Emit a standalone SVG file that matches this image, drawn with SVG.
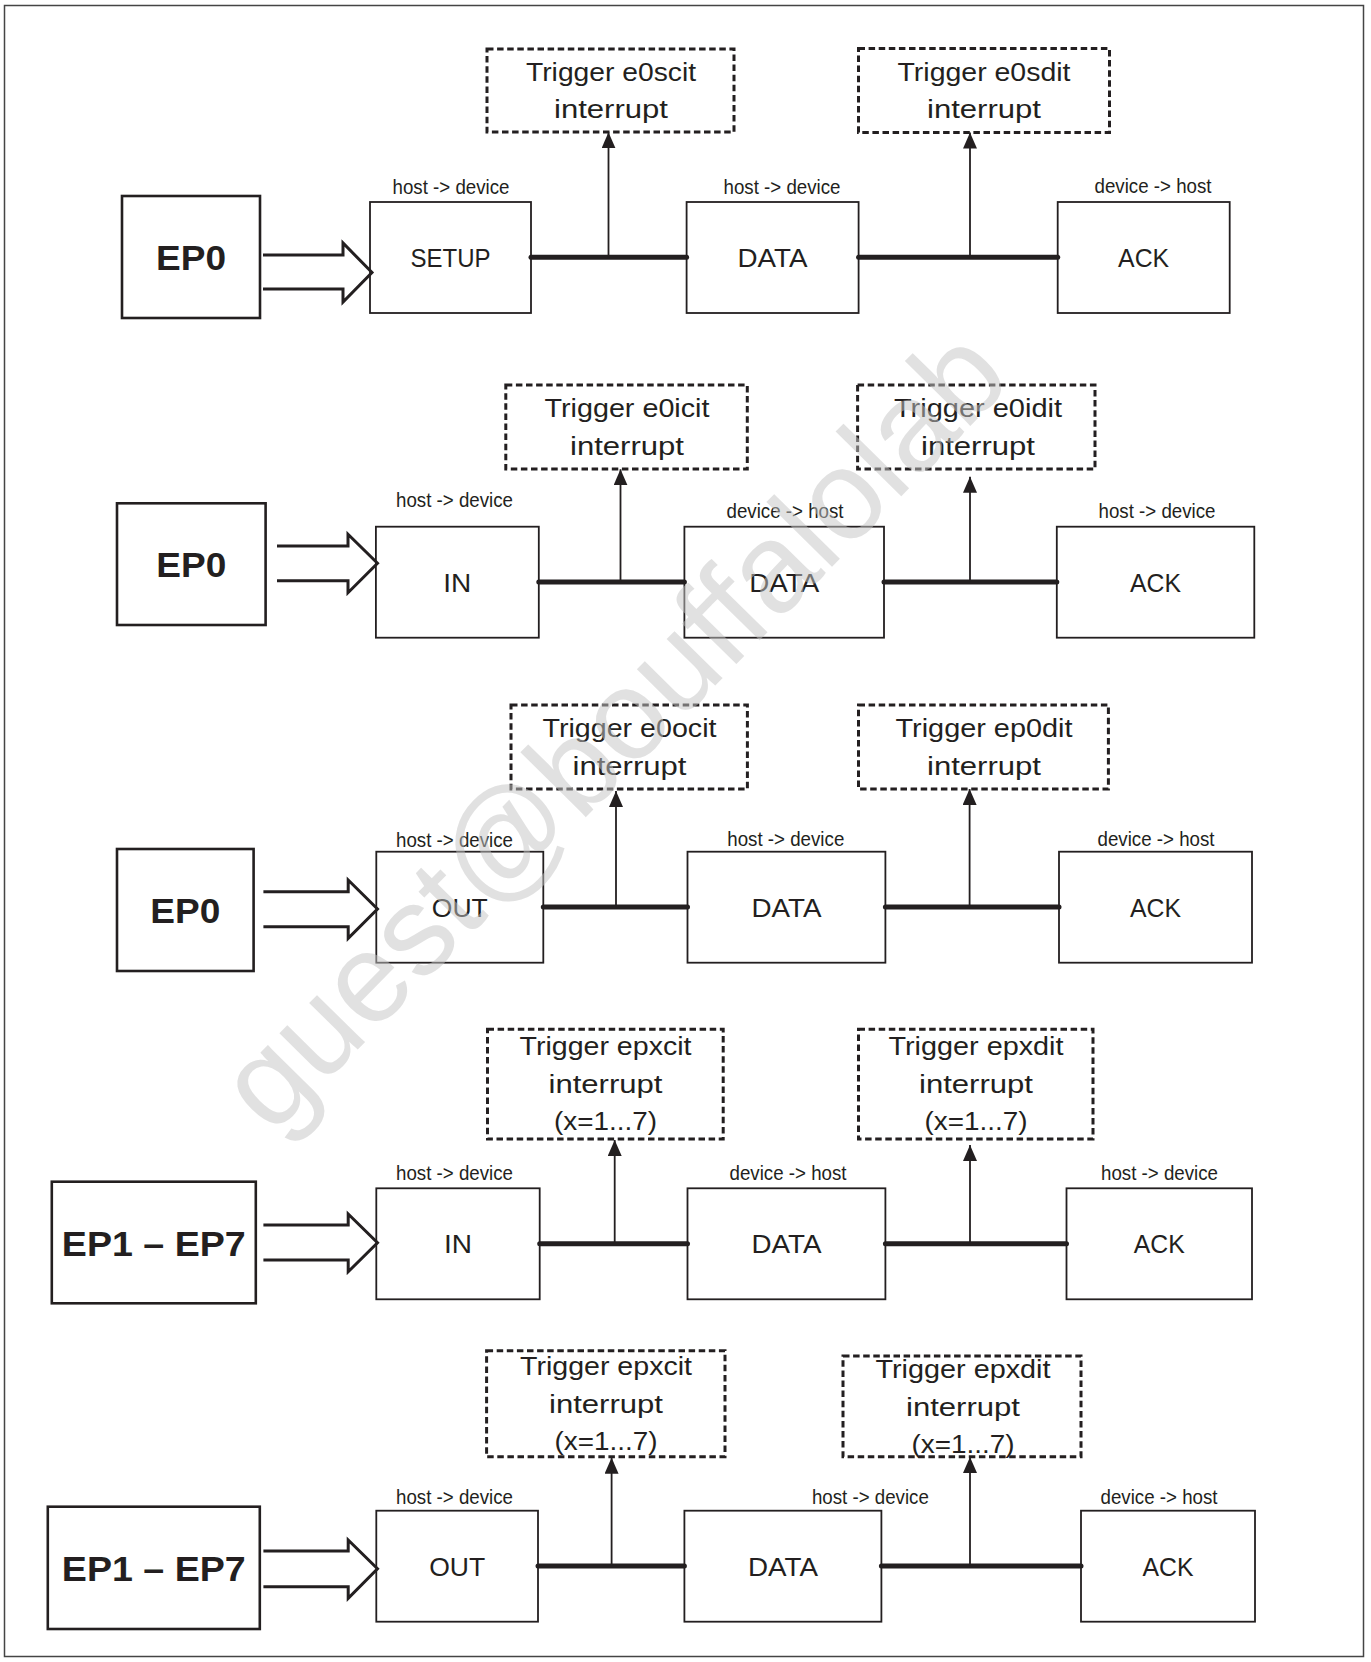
<svg xmlns="http://www.w3.org/2000/svg" width="1371" height="1662" viewBox="0 0 1371 1662">
<style>
.frame{fill:none;stroke:#444;stroke-width:1.5}
.ep{fill:#fff;stroke:#231f20;stroke-width:2.6}
.box{fill:#fff;stroke:#231f20;stroke-width:1.8}
.dash{fill:none;stroke:#231f20;stroke-width:3;stroke-dasharray:6.5 3.6}
.blk{fill:none;stroke:#231f20;stroke-width:3;stroke-linejoin:miter}
.bus{stroke:#231f20;stroke-width:5;stroke-linecap:round}
.up{stroke:#231f20;stroke-width:1.8;marker-end:url(#ah)}
text{font-family:"Liberation Sans",Arial,sans-serif;fill:#231f20;text-anchor:middle}
.eplbl{font-size:35px;font-weight:bold}
.lbl{font-size:25px}
.dir{font-size:19.5px}
.wm{font-size:127px;fill:#c4c4c4;opacity:0.5}
</style>
<defs>
<marker id="ah" viewBox="0 0 16 14" refX="16" refY="7" markerWidth="16" markerHeight="14" markerUnits="userSpaceOnUse" orient="auto">
<path d="M0,0 L16,7 L0,14 z" fill="#231f20"/>
</marker>
</defs>
<rect class="frame" x="4.5" y="5.5" width="1359" height="1651"/>

<!-- Row 1 -->
<g id="r1-ep"><rect class="ep" x="122" y="196" width="138" height="122"/><text class="eplbl" x="191" y="270" textLength="70" lengthAdjust="spacingAndGlyphs">EP0</text></g>
<g id="r1-setup"><rect class="box" x="370" y="202" width="161" height="111"/><text class="dir" x="451" y="194" textLength="117" lengthAdjust="spacingAndGlyphs">host -&gt; device</text><text class="lbl" x="450.5" y="267" textLength="80" lengthAdjust="spacingAndGlyphs">SETUP</text></g>
<g id="r1-data"><rect class="box" x="686.6" y="202" width="172" height="111"/><text class="dir" x="782" y="194" textLength="117" lengthAdjust="spacingAndGlyphs">host -&gt; device</text><text class="lbl" x="772.5" y="267" textLength="70" lengthAdjust="spacingAndGlyphs">DATA</text></g>
<g id="r1-ack"><rect class="box" x="1057.7" y="202" width="172" height="111"/><text class="dir" x="1153" y="193" textLength="117" lengthAdjust="spacingAndGlyphs">device -&gt; host</text><text class="lbl" x="1143.6" y="267" textLength="51" lengthAdjust="spacingAndGlyphs">ACK</text></g>
<g id="r1-int1"><rect class="dash" x="487" y="49" width="247" height="83"/><text class="lbl" x="611" y="81" textLength="170" lengthAdjust="spacingAndGlyphs">Trigger e0scit</text><text class="lbl" x="611" y="118" textLength="114" lengthAdjust="spacingAndGlyphs">interrupt</text></g>
<g id="r1-int2"><rect class="dash" x="858.5" y="48.5" width="251" height="84"/><text class="lbl" x="984" y="81" textLength="173" lengthAdjust="spacingAndGlyphs">Trigger e0sdit</text><text class="lbl" x="984" y="118" textLength="114" lengthAdjust="spacingAndGlyphs">interrupt</text></g>

<!-- Row 2 -->
<g id="r2-ep"><rect class="ep" x="117" y="503.3" width="148.6" height="121.7"/><text class="eplbl" x="191.3" y="577" textLength="70" lengthAdjust="spacingAndGlyphs">EP0</text></g>
<g id="r2-in"><rect class="box" x="375.9" y="526.7" width="162.9" height="111"/><text class="dir" x="454.5" y="506.7" textLength="117" lengthAdjust="spacingAndGlyphs">host -&gt; device</text><text class="lbl" x="457.3" y="591.5" textLength="28" lengthAdjust="spacingAndGlyphs">IN</text></g>
<g id="r2-data"><rect class="box" x="684.4" y="526.7" width="199.6" height="111"/><text class="dir" x="785" y="518.3" textLength="117" lengthAdjust="spacingAndGlyphs">device -&gt; host</text><text class="lbl" x="784.2" y="591.5" textLength="70" lengthAdjust="spacingAndGlyphs">DATA</text></g>
<g id="r2-ack"><rect class="box" x="1056.8" y="526.7" width="197.5" height="111"/><text class="dir" x="1157" y="518.3" textLength="117" lengthAdjust="spacingAndGlyphs">host -&gt; device</text><text class="lbl" x="1155.5" y="591.5" textLength="51" lengthAdjust="spacingAndGlyphs">ACK</text></g>
<g id="r2-int1"><rect class="dash" x="505.8" y="385" width="241.5" height="84"/><text class="lbl" x="627" y="416.7" textLength="165" lengthAdjust="spacingAndGlyphs">Trigger e0icit</text><text class="lbl" x="627" y="455" textLength="114" lengthAdjust="spacingAndGlyphs">interrupt</text></g>
<g id="r2-int2"><rect class="dash" x="857.6" y="385" width="237.4" height="84"/><text class="lbl" x="978" y="416.7" textLength="168" lengthAdjust="spacingAndGlyphs">Trigger e0idit</text><text class="lbl" x="978" y="455" textLength="114" lengthAdjust="spacingAndGlyphs">interrupt</text></g>

<!-- Row 3 -->
<g id="r3-ep"><rect class="ep" x="117" y="849" width="136.6" height="122"/><text class="eplbl" x="185.3" y="923" textLength="70" lengthAdjust="spacingAndGlyphs">EP0</text></g>
<g id="r3-out"><rect class="box" x="376.3" y="851.7" width="167" height="111"/><text class="dir" x="454.5" y="846.7" textLength="117" lengthAdjust="spacingAndGlyphs">host -&gt; device</text><text class="lbl" x="459.8" y="916.5" textLength="56" lengthAdjust="spacingAndGlyphs">OUT</text></g>
<g id="r3-data"><rect class="box" x="687.5" y="851.7" width="197.9" height="111"/><text class="dir" x="785.8" y="846" textLength="117" lengthAdjust="spacingAndGlyphs">host -&gt; device</text><text class="lbl" x="786.5" y="916.5" textLength="70" lengthAdjust="spacingAndGlyphs">DATA</text></g>
<g id="r3-ack"><rect class="box" x="1059" y="851.7" width="193" height="111"/><text class="dir" x="1156" y="846" textLength="117" lengthAdjust="spacingAndGlyphs">device -&gt; host</text><text class="lbl" x="1155.5" y="916.5" textLength="51" lengthAdjust="spacingAndGlyphs">ACK</text></g>
<g id="r3-int1"><rect class="dash" x="511" y="705" width="236.4" height="84"/><text class="lbl" x="629.5" y="736.7" textLength="174" lengthAdjust="spacingAndGlyphs">Trigger e0ocit</text><text class="lbl" x="629.5" y="775" textLength="114" lengthAdjust="spacingAndGlyphs">interrupt</text></g>
<g id="r3-int2"><rect class="dash" x="858.5" y="705" width="249.9" height="84"/><text class="lbl" x="984" y="736.7" textLength="177" lengthAdjust="spacingAndGlyphs">Trigger ep0dit</text><text class="lbl" x="984" y="775" textLength="114" lengthAdjust="spacingAndGlyphs">interrupt</text></g>

<!-- Row 4 -->
<g id="r4-ep"><rect class="ep" x="51.8" y="1181.7" width="204" height="121.6"/><text class="eplbl" x="153.8" y="1255.5" textLength="184" lengthAdjust="spacingAndGlyphs">EP1 – EP7</text></g>
<g id="r4-in"><rect class="box" x="376.3" y="1188.3" width="163.4" height="111"/><text class="dir" x="454.5" y="1180" textLength="117" lengthAdjust="spacingAndGlyphs">host -&gt; device</text><text class="lbl" x="458" y="1253" textLength="28" lengthAdjust="spacingAndGlyphs">IN</text></g>
<g id="r4-data"><rect class="box" x="687.5" y="1188.3" width="197.9" height="111"/><text class="dir" x="788" y="1180" textLength="117" lengthAdjust="spacingAndGlyphs">device -&gt; host</text><text class="lbl" x="786.5" y="1253" textLength="70" lengthAdjust="spacingAndGlyphs">DATA</text></g>
<g id="r4-ack"><rect class="box" x="1066.5" y="1188.3" width="185.5" height="111"/><text class="dir" x="1159.5" y="1180" textLength="117" lengthAdjust="spacingAndGlyphs">host -&gt; device</text><text class="lbl" x="1159.3" y="1253" textLength="51" lengthAdjust="spacingAndGlyphs">ACK</text></g>
<g id="r4-int1"><rect class="dash" x="487.5" y="1029.3" width="235.7" height="109.7"/><text class="lbl" x="605.5" y="1055" textLength="172" lengthAdjust="spacingAndGlyphs">Trigger epxcit</text><text class="lbl" x="605.5" y="1093.3" textLength="114" lengthAdjust="spacingAndGlyphs">interrupt</text><text class="lbl" x="605.5" y="1130" textLength="103" lengthAdjust="spacingAndGlyphs">(x=1...7)</text></g>
<g id="r4-int2"><rect class="dash" x="858.5" y="1029.3" width="234.5" height="109.7"/><text class="lbl" x="976" y="1055" textLength="175" lengthAdjust="spacingAndGlyphs">Trigger epxdit</text><text class="lbl" x="976" y="1093.3" textLength="114" lengthAdjust="spacingAndGlyphs">interrupt</text><text class="lbl" x="976" y="1130" textLength="103" lengthAdjust="spacingAndGlyphs">(x=1...7)</text></g>

<!-- Row 5 -->
<g id="r5-ep"><rect class="ep" x="47.8" y="1506.7" width="212" height="122.3"/><text class="eplbl" x="153.8" y="1581" textLength="184" lengthAdjust="spacingAndGlyphs">EP1 – EP7</text></g>
<g id="r5-out"><rect class="box" x="376.3" y="1510.7" width="161.7" height="111"/><text class="dir" x="454.5" y="1504.3" textLength="117" lengthAdjust="spacingAndGlyphs">host -&gt; device</text><text class="lbl" x="457.2" y="1575.5" textLength="56" lengthAdjust="spacingAndGlyphs">OUT</text></g>
<g id="r5-data"><rect class="box" x="684.4" y="1510.7" width="197" height="111"/><text class="dir" x="870.4" y="1504.3" textLength="117" lengthAdjust="spacingAndGlyphs">host -&gt; device</text><text class="lbl" x="783" y="1575.5" textLength="70" lengthAdjust="spacingAndGlyphs">DATA</text></g>
<g id="r5-ack"><rect class="box" x="1081" y="1510.7" width="174" height="111"/><text class="dir" x="1159" y="1504.3" textLength="117" lengthAdjust="spacingAndGlyphs">device -&gt; host</text><text class="lbl" x="1168" y="1575.5" textLength="51" lengthAdjust="spacingAndGlyphs">ACK</text></g>
<g id="r5-int1"><rect class="dash" x="486.6" y="1350.7" width="238.4" height="106"/><text class="lbl" x="606" y="1375" textLength="172" lengthAdjust="spacingAndGlyphs">Trigger epxcit</text><text class="lbl" x="606" y="1413.3" textLength="114" lengthAdjust="spacingAndGlyphs">interrupt</text><text class="lbl" x="606" y="1450" textLength="103" lengthAdjust="spacingAndGlyphs">(x=1...7)</text></g>
<g id="r5-int2"><rect class="dash" x="843" y="1356" width="238" height="100.7"/><text class="lbl" x="963" y="1378.3" textLength="175" lengthAdjust="spacingAndGlyphs">Trigger epxdit</text><text class="lbl" x="963" y="1416" textLength="114" lengthAdjust="spacingAndGlyphs">interrupt</text><text class="lbl" x="963" y="1453.3" textLength="103" lengthAdjust="spacingAndGlyphs">(x=1...7)</text></g>

<g id="connectors">
<path class="blk" d="M263,255 H343 V243 L372,272.5 L343,302 V289 H263"/>
<path class="blk" d="M277,546 H348 V534.3 L377.5,563.3 L348,592.7 V580.7 H277"/>
<path class="blk" d="M263.4,891.7 H348.2 V880 L377.5,909 L348.2,938.3 V926.7 H263.4"/>
<path class="blk" d="M263.4,1225 H348.2 V1214 L377.5,1242.7 L348.2,1271.7 V1260 H263.4"/>
<path class="blk" d="M263.4,1551 H348.2 V1540 L377.5,1568.7 L348.2,1598.3 V1586.7 H263.4"/>
<line class="bus" x1="531" y1="257.3" x2="686.6" y2="257.3"/>
<line class="bus" x1="858.6" y1="257.3" x2="1057.7" y2="257.3"/>
<line class="bus" x1="538.8" y1="582" x2="684.4" y2="582"/>
<line class="bus" x1="884" y1="582" x2="1056.8" y2="582"/>
<line class="bus" x1="543.3" y1="907" x2="687.5" y2="907"/>
<line class="bus" x1="885.4" y1="907" x2="1059" y2="907"/>
<line class="bus" x1="539.7" y1="1243.7" x2="687.5" y2="1243.7"/>
<line class="bus" x1="885.4" y1="1243.7" x2="1066.5" y2="1243.7"/>
<line class="bus" x1="538" y1="1566" x2="684.4" y2="1566"/>
<line class="bus" x1="881.4" y1="1566" x2="1081" y2="1566"/>
<line class="up" x1="608.5" y1="257.3" x2="608.5" y2="132.3"/>
<line class="up" x1="970" y1="257.3" x2="970" y2="132.5"/>
<line class="up" x1="620.5" y1="582" x2="620.5" y2="469.3"/>
<line class="up" x1="970" y1="582" x2="970" y2="476.7"/>
<line class="up" x1="616" y1="907" x2="616" y2="791"/>
<line class="up" x1="969.6" y1="907" x2="969.6" y2="789"/>
<line class="up" x1="614.7" y1="1243.7" x2="614.7" y2="1140"/>
<line class="up" x1="970" y1="1243.7" x2="970" y2="1145"/>
<line class="up" x1="611.6" y1="1566" x2="611.6" y2="1457.7"/>
<line class="up" x1="970" y1="1566" x2="970" y2="1457"/>
</g>

<text class="wm" x="643" y="759" transform="rotate(-45.5 643 759)">guest@bouffalolab</text>
</svg>
